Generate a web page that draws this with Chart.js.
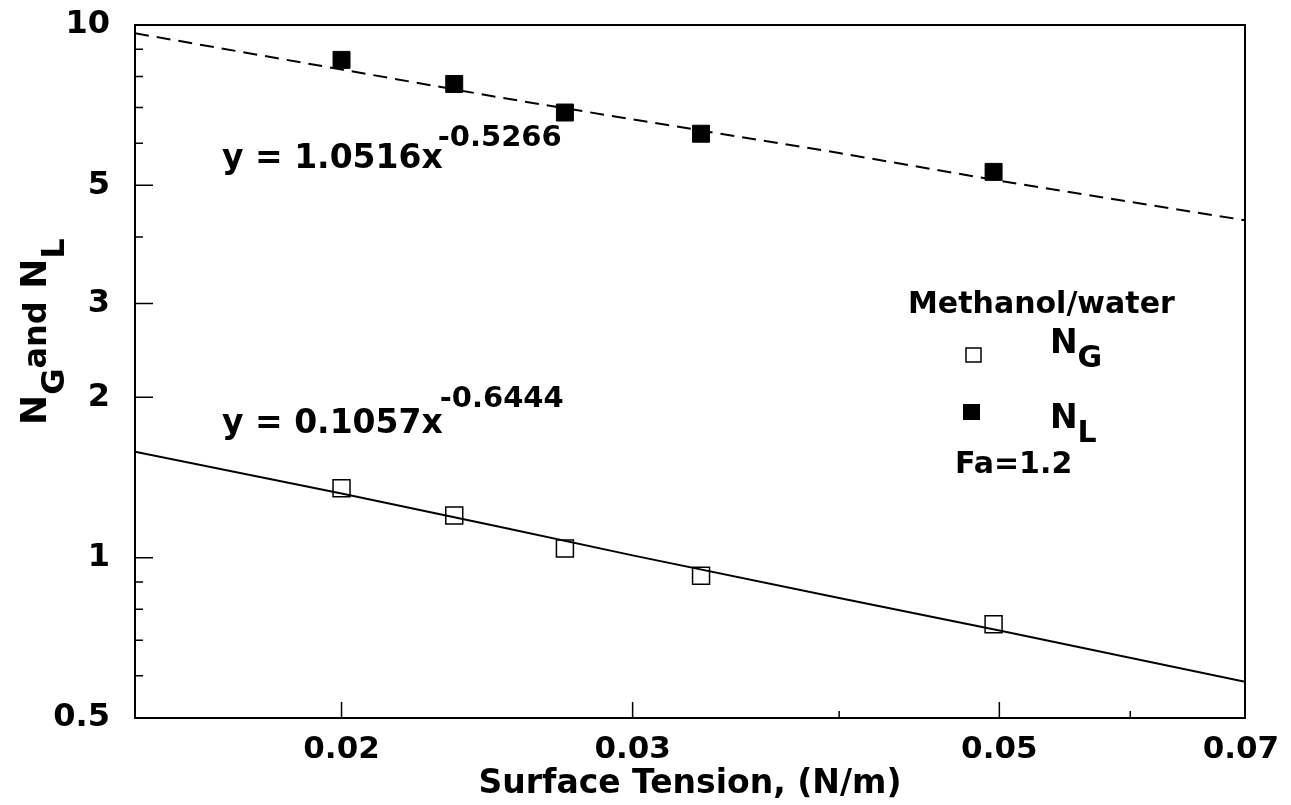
<!DOCTYPE html>
<html><head><meta charset="utf-8">
<script src="https://cdn.jsdelivr.net/npm/chart.js@4.4.1/dist/chart.umd.min.js"></script>
<style>html,body{margin:0;padding:0;background:#fff;overflow:hidden}#wrap{width:1291px;height:805px;position:relative}</style>
</head><body><div id="wrap"><canvas id="c" width="1291" height="805"></canvas></div>
<script>
// ---- data ----
const surfaceTension = [0.0200, 0.0234, 0.0273, 0.0330, 0.0496];
const nG = [1.35, 1.20, 1.04, 0.925, 0.75];
const nL = [8.6, 7.75, 6.85, 6.25, 5.3];
const fitX = [0.015, 0.02, 0.025, 0.03, 0.04, 0.05, 0.0704];
const fitNL = [9.65, 8.25, 7.3, 6.65, 5.75, 5.1, 4.3];
const fitNG = [1.58, 1.32, 1.14, 1.01, 0.84, 0.73, 0.585];
const xTickValues = [0.02, 0.03, 0.05, 0.07];
const xTickLabels = ['0.02', '0.03', '0.05', '0.07'];
const xMinorTicks = [0.04, 0.06];
const yTickValues = [0.5, 1, 2, 3, 5, 10];
const yTickLabels = ['0.5', '1', '2', '3', '5', '10'];
const yMinorTicks = [0.6, 0.7, 0.8, 0.9, 4, 6, 7, 8, 9];
const xTitle = 'Surface Tension, (N/m)';
const eqNL = ['y = 1.0516x', '-0.5266'];
const eqNG = ['y = 0.1057x', '-0.6444'];
const legendTitle = 'Methanol/water';
const legendNote = 'Fa=1.2';

const FONT = '"DejaVu Sans", sans-serif';

function drawRuns(ctx, x, y, runs, stretch) {
  ctx.save();
  ctx.translate(x, y);
  ctx.scale(stretch || 1, 1);
  ctx.textAlign = 'left';
  ctx.textBaseline = 'alphabetic';
  ctx.fillStyle = '#000';
  let cx = 0;
  for (const r of runs) {
    ctx.font = 'bold ' + r.size + 'px ' + FONT;
    cx += (r.dx || 0);
    ctx.fillText(r.text, cx, r.dy || 0);
    cx += ctx.measureText(r.text).width;
  }
  ctx.restore();
}

const framePlugin = {
  id: 'frame',
  afterDraw(chart) {
    const ctx = chart.ctx;
    const a = chart.chartArea;
    const xs = chart.scales.x, ys = chart.scales.y;
    ctx.save();
    ctx.strokeStyle = '#000';
    ctx.lineWidth = 2;
    ctx.strokeRect(a.left, a.top, a.right - a.left, a.bottom - a.top);
    ctx.lineWidth = 1.5;
    ctx.beginPath();
    yTickValues.forEach(v => { const p = ys.getPixelForValue(v); ctx.moveTo(a.left, p); ctx.lineTo(a.left + 18, p); });
    yMinorTicks.forEach(v => { const p = ys.getPixelForValue(v); ctx.moveTo(a.left, p); ctx.lineTo(a.left + 8, p); });
    xTickValues.forEach(v => { const p = xs.getPixelForValue(v); if (p < a.right - 5) { ctx.moveTo(p, a.bottom); ctx.lineTo(p, a.bottom - 16); } });
    xMinorTicks.forEach(v => { const p = xs.getPixelForValue(v); ctx.moveTo(p, a.bottom); ctx.lineTo(p, a.bottom - 7); });
    ctx.stroke();
    ctx.restore();

    // equations
    drawRuns(ctx, 222, 168, [{text: eqNL[0], size: 33}, {text: eqNL[1], size: 29, dy: -22, dx: -5}], 1.0);
    drawRuns(ctx, 222, 433, [{text: eqNG[0], size: 33}, {text: eqNG[1], size: 29, dy: -26, dx: -3}], 1.0);

    // legend
    drawRuns(ctx, 908, 313, [{text: legendTitle, size: 30}], 1.0);
    ctx.save();
    ctx.strokeStyle = '#000'; ctx.lineWidth = 1.5;
    ctx.strokeRect(966, 348, 15, 14);
    ctx.fillStyle = '#000';
    ctx.fillRect(963, 404, 17, 16);
    ctx.restore();
    drawRuns(ctx, 1050, 353, [{text: 'N', size: 33}, {text: 'G', size: 30, dy: 14}], 1.0);
    drawRuns(ctx, 1050, 428, [{text: 'N', size: 33}, {text: 'L', size: 30, dy: 14}], 1.0);
    drawRuns(ctx, 955, 473, [{text: legendNote, size: 30}], 1.0);

    // y axis title (rotated)
    ctx.save();
    ctx.translate(46, 425);
    ctx.rotate(-Math.PI / 2);
    drawRuns(ctx, 0, 0, [
      {text: 'N', size: 36}, {text: 'G', size: 32, dy: 18},
      {text: 'and', size: 32}, {text: ' N', size: 36}, {text: 'L', size: 32, dy: 18}
    ], 1.0);
    ctx.restore();
  }
};

new Chart(document.getElementById('c'), {
  type: 'scatter',
  data: {
    datasets: [
      { label: 'NL fit', data: fitX.map((x, i) => ({x, y: fitNL[i]})), showLine: true, borderColor: '#000', borderWidth: 2, borderDash: [14, 8], pointRadius: 0, fill: false },
      { label: 'NG fit', data: fitX.map((x, i) => ({x, y: fitNG[i]})), showLine: true, borderColor: '#000', borderWidth: 2, pointRadius: 0, fill: false },
      { label: 'NG', data: surfaceTension.map((x, i) => ({x, y: nG[i]})), pointStyle: 'rect', pointRadius: 12, borderColor: '#000', borderWidth: 1.5, backgroundColor: 'rgba(0,0,0,0)' },
      { label: 'NL', data: surfaceTension.map((x, i) => ({x, y: nL[i]})), pointStyle: 'rect', pointRadius: 12, borderColor: '#000', borderWidth: 1, backgroundColor: '#000' }
    ]
  },
  options: {
    responsive: false, animation: false, devicePixelRatio: 1,
    layout: { padding: { top: 25, right: 46, left: 0, bottom: 0 } },
    plugins: { legend: { display: false }, tooltip: { enabled: false } },
    scales: {
      x: {
        type: 'logarithmic', position: 'bottom', min: 0.015, max: 0.0704,
        grid: { display: false, drawTicks: false }, border: { display: false },
        afterBuildTicks: s => { s.ticks = xTickValues.map(v => ({value: v})); },
        afterFit: s => { s.height = 87; s.paddingLeft = 0; s.paddingRight = 0; s.paddingTop = 0; s.paddingBottom = 0; },
        ticks: { autoSkip: false, maxRotation: 0, padding: 13, color: '#000', font: { family: FONT, size: 31, weight: 'bold' },
          callback: v => { const i = xTickValues.indexOf(v); return i >= 0 ? xTickLabels[i] : ''; } },
        title: { display: true, text: xTitle, color: '#000', font: { family: FONT, size: 33, weight: 'bold' }, padding: { top: 0, bottom: 1 } }
      },
      y: {
        type: 'logarithmic', position: 'left', min: 0.5, max: 10,
        grid: { display: false, drawTicks: false }, border: { display: false },
        afterBuildTicks: s => { s.ticks = yTickValues.map(v => ({value: v})); },
        afterFit: s => { s.width = 135; s.paddingLeft = 0; s.paddingRight = 0; s.paddingTop = 0; s.paddingBottom = 0; },
        ticks: { autoSkip: false, padding: 25, color: '#000', font: { family: FONT, size: 32, weight: 'bold' },
          callback: v => { const i = yTickValues.indexOf(v); return i >= 0 ? yTickLabels[i] : ''; } }
      }
    }
  },
  plugins: [framePlugin]
});
</script>
</body></html>
